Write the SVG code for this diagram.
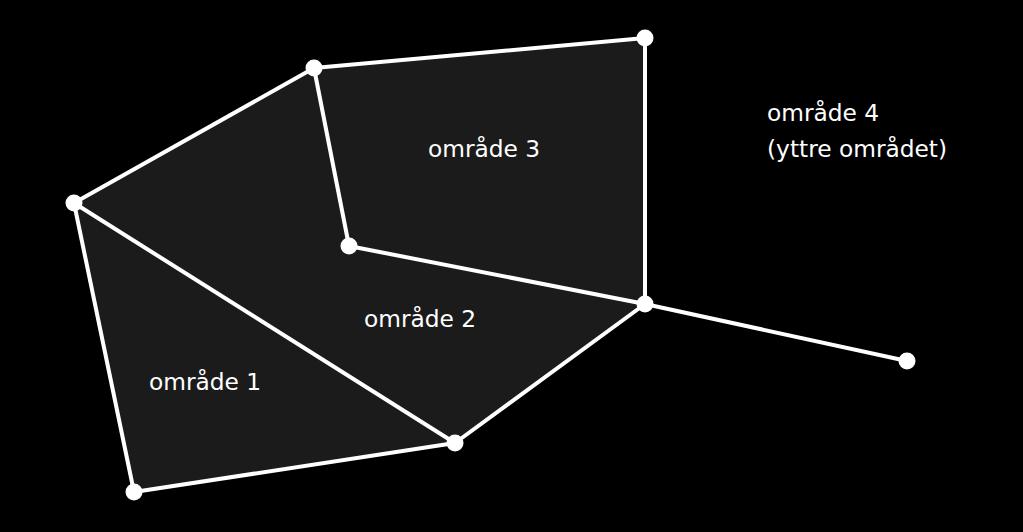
<svg xmlns="http://www.w3.org/2000/svg" width="1023" height="532" viewBox="0 0 1023 532">
<style>
.e{stroke:#fff;stroke-width:4;fill:none;stroke-linecap:round}
.n{fill:#fff}
.t{fill:#fff;font-family:"DejaVu Sans",sans-serif;font-size:23.3px}
</style>
<rect width="1023" height="532" fill="#000"/>
<polygon points="74,203 314,68 645,38 645,304 455,443 134,492" fill="#1b1b1b"/>
<g id="connectors">
<line class="e" x1="74" y1="203" x2="314" y2="68"/>
<line class="e" x1="314" y1="68" x2="645" y2="38"/>
<line class="e" x1="645" y1="38" x2="645" y2="304"/>
<line class="e" x1="314" y1="68" x2="349" y2="246"/>
<line class="e" x1="349" y1="246" x2="645" y2="304"/>
<line class="e" x1="645" y1="304" x2="907" y2="361"/>
<line class="e" x1="645" y1="304" x2="455" y2="443"/>
<line class="e" x1="455" y1="443" x2="134" y2="492"/>
<line class="e" x1="134" y1="492" x2="74" y2="203"/>
<line class="e" x1="74" y1="203" x2="455" y2="443"/>
</g>
<g id="nA"><circle class="n" cx="74" cy="203" r="8.5"/></g>
<g id="nB"><circle class="n" cx="314" cy="68" r="8.5"/></g>
<g id="nC"><circle class="n" cx="645" cy="38" r="8.5"/></g>
<g id="nD"><circle class="n" cx="349" cy="246" r="8.5"/></g>
<g id="nE"><circle class="n" cx="645" cy="304" r="8.5"/></g>
<g id="nF"><circle class="n" cx="907" cy="361" r="8.5"/></g>
<g id="nG"><circle class="n" cx="455" cy="443" r="8.5"/></g>
<g id="nH"><circle class="n" cx="134" cy="492" r="8.5"/></g>
<g id="labels">
<text class="t" x="149" y="390">område 1</text>
<text class="t" x="364" y="327">område 2</text>
<text class="t" x="428" y="157">område 3</text>
<text class="t" x="767" y="121">område 4</text>
<text class="t" x="767" y="157">(yttre området)</text>
</g>
</svg>
